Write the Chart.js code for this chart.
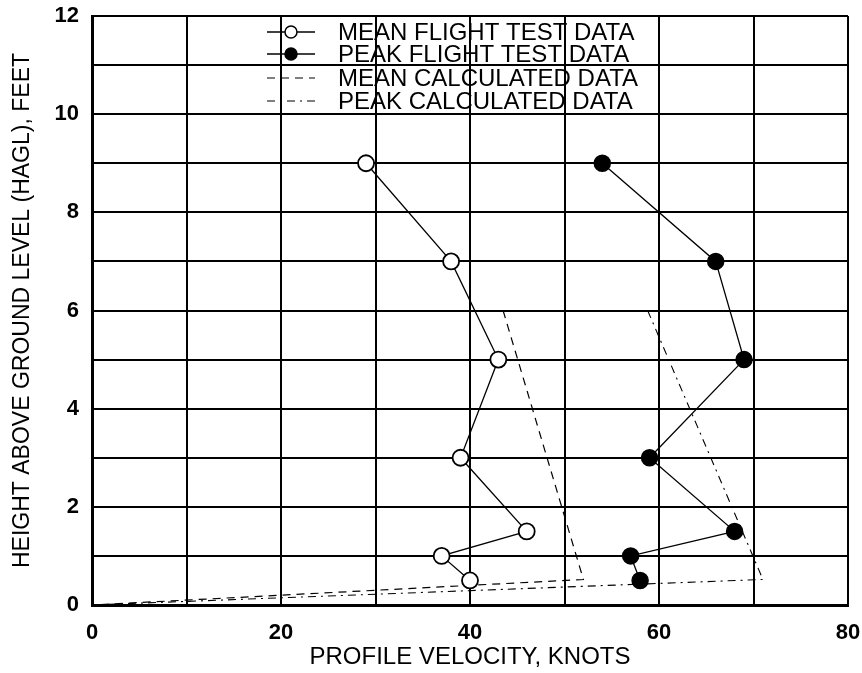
<!DOCTYPE html>
<html>
<head>
<meta charset="utf-8">
<script src="https://cdn.jsdelivr.net/npm/chart.js@4/dist/chart.umd.min.js"></script>
<style>
  html, body { margin: 0; padding: 0; background: #fff; }
</style>
</head>
<body>
<canvas id="profileChart" width="862" height="673"></canvas>
<script>
// heights (ft) for the flight test points
const testHeights = [9, 7, 5, 3, 1.5, 1, 0.5];
const meanFlight = [29, 38, 43, 39, 46, 37, 40];
const peakFlight = [54, 66, 69, 59, 68, 57, 58];

// calculated profiles
const calcHeights = [6, 0.52, 0];
const meanCalc = [43.5, 52, 0];
const peakCalc = [58.8, 71, 0];

const seriesNames = [
    "MEAN FLIGHT TEST DATA",
    "PEAK FLIGHT TEST DATA",
    "MEAN CALCULATED DATA",
    "PEAK CALCULATED DATA"
];
const xTickLabels = [0, 20, 40, 60, 80];
const yTickLabels = [0, 2, 4, 6, 8, 10, 12];

const toPoints = (xs, ys) => xs.map((x, i) => ({ x: x, y: ys[i] }));

const FONT = "'Liberation Sans', Arial, sans-serif";

// legend drawn inside the plot, over the grid
const insideLegend = {
    id: "insideLegend",
    afterDatasetsDraw(chart) {
        const ctx = chart.ctx;
        const left = 267, right = 315, textX = 338;
        const rows = [32, 54, 78, 101];
        ctx.save();
        chart.data.datasets.forEach((ds, i) => {
            const y = rows[i];
            ctx.strokeStyle = "#000";
            ctx.lineWidth = ds.borderWidth;
            ctx.setLineDash(ds.borderDash || []);
            ctx.beginPath();
            ctx.moveTo(left, y);
            ctx.lineTo(right, y);
            ctx.stroke();
            ctx.setLineDash([]);
            if (ds.pointRadius > 0) {
                ctx.beginPath();
                ctx.arc((left + right) / 2, y, 6, 0, Math.PI * 2);
                ctx.fillStyle = ds.pointBackgroundColor;
                ctx.fill();
                ctx.lineWidth = 1.5;
                ctx.stroke();
            }
            ctx.fillStyle = "#000";
            ctx.font = "24px " + FONT;
            ctx.textBaseline = "middle";
            ctx.fillText(ds.label, textX, y + 1);
        });
        ctx.restore();
    }
};

new Chart(document.getElementById("profileChart"), {
    type: "scatter",
    data: {
        datasets: [
            {
                label: seriesNames[0],
                data: toPoints(meanFlight, testHeights),
                showLine: true,
                borderColor: "#000",
                borderWidth: 1.3,
                pointRadius: 8,
                pointBorderWidth: 1.8,
                pointBorderColor: "#000",
                pointBackgroundColor: "#fff"
            },
            {
                label: seriesNames[1],
                data: toPoints(peakFlight, testHeights),
                showLine: true,
                borderColor: "#000",
                borderWidth: 1.3,
                pointRadius: 8,
                pointBorderWidth: 1.5,
                pointBorderColor: "#000",
                pointBackgroundColor: "#000"
            },
            {
                label: seriesNames[2],
                data: toPoints(meanCalc, calcHeights),
                showLine: true,
                borderColor: "#000",
                borderWidth: 1.2,
                borderDash: [8, 6],
                pointRadius: 0
            },
            {
                label: seriesNames[3],
                data: toPoints(peakCalc, calcHeights),
                showLine: true,
                borderColor: "#000",
                borderWidth: 1.1,
                borderDash: [8, 5, 2, 5],
                pointRadius: 0
            }
        ]
    },
    options: {
        responsive: false,
        animation: false,
        layout: { padding: { top: 16, right: 14, left: 0, bottom: 0 } },
        plugins: {
            legend: { display: false },
            tooltip: { enabled: false }
        },
        scales: {
            x: {
                type: "linear",
                min: 0,
                max: 80,
                afterFit: s => { s.height = 68; s.paddingLeft = 0; s.paddingRight = 0; },
                grid: { color: "#000", lineWidth: 2, drawTicks: false },
                border: { color: "#000", width: 3 },
                ticks: {
                    stepSize: 10,
                    autoSkip: false,
                    maxRotation: 0,
                    padding: 15,
                    color: "#000",
                    font: { family: FONT, size: 22, weight: "bold" },
                    callback: v => xTickLabels.includes(v) ? String(v) : ""
                },
                title: {
                    display: true,
                    text: "PROFILE VELOCITY, KNOTS",
                    color: "#000",
                    font: { family: FONT, size: 24 },
                    padding: { top: 0, bottom: 1 }
                }
            },
            y: {
                type: "linear",
                min: 0,
                max: 12,
                afterFit: s => { s.width = 92; s.paddingTop = 0; s.paddingBottom = 0; },
                grid: { color: "#000", lineWidth: 2, drawTicks: false },
                border: { color: "#000", width: 3 },
                ticks: {
                    stepSize: 1,
                    autoSkip: false,
                    padding: 13,
                    color: "#000",
                    font: { family: FONT, size: 22, weight: "bold" },
                    callback: v => yTickLabels.includes(v) ? String(v) : ""
                },
                title: {
                    display: true,
                    text: "HEIGHT ABOVE GROUND LEVEL (HAGL), FEET",
                    color: "#000",
                    font: { family: FONT, size: 23 },
                    padding: { top: 9, bottom: 0 }
                }
            }
        }
    },
    plugins: [insideLegend]
});
</script>
</body>
</html>
